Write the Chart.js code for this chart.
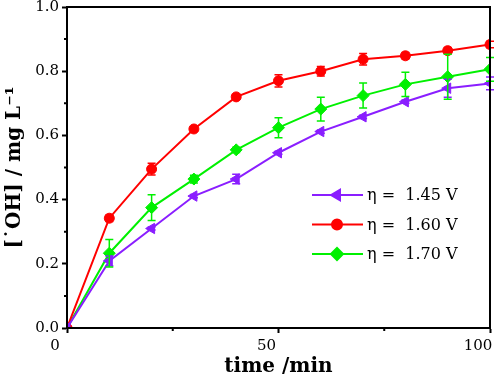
<!DOCTYPE html>
<html>
<head>
<meta charset="utf-8">
<script src="https://cdn.jsdelivr.net/npm/chart.js@4.4.0/dist/chart.umd.min.js"></script>
<style>
  html, body { margin: 0; padding: 0; background: #fff; }
  #wrap { width: 498px; height: 379px; }
</style>
</head>
<body>
<div id="wrap"><canvas id="ohChart" width="498" height="379"></canvas></div>
<script>
// --- data ---
const times = [0, 10, 20, 30, 40, 50, 60, 70, 80, 90, 100];

const oh145 = [0, 0.209, 0.310, 0.411, 0.464, 0.546, 0.612, 0.658, 0.705, 0.747, 0.762];
const err145 = [0, 0.015, 0.005, 0.005, 0.015, 0.005, 0.005, 0.005, 0.005, 0.028, 0.02];

const oh160 = [0, 0.342, 0.495, 0.620, 0.720, 0.770, 0.800, 0.837, 0.848, 0.864, 0.883];
const err160 = [0, 0.01, 0.018, 0.006, 0.006, 0.019, 0.015, 0.018, 0.01, 0.01, 0.01];

const oh170 = [0, 0.233, 0.375, 0.464, 0.555, 0.624, 0.682, 0.724, 0.759, 0.783, 0.806];
const err170 = [0, 0.043, 0.04, 0.012, 0.008, 0.031, 0.037, 0.039, 0.038, 0.07, 0.037];

const seriesLabels = ["η =  1.45 V", "η =  1.60 V", "η =  1.70 V"];
const xTitle = "time /min";
const yTitle = "[˙OH] / mg L⁻¹";

const FONT = "'DejaVu Serif', 'Liberation Serif', serif";
const PURPLE = "#8a1eff";
const RED = "#ff0000";
const GREEN = "#00f000";

const toPts = (ys) => times.map((t, i) => ({ x: t, y: ys[i] }));

// error bars, drawn through the y scale
const errorBars = {
  id: "errorBars",
  afterDatasetsDraw(chart) {
    const ctx = chart.ctx;
    const yScale = chart.scales.y;
    chart.data.datasets.forEach((ds, di) => {
      const meta = chart.getDatasetMeta(di);
      ctx.save();
      ctx.strokeStyle = ds.borderColor;
      ctx.lineWidth = 1.5;
      meta.data.forEach((pt, i) => {
        const e = ds.errors[i];
        if (!e) return;
        const val = ds.data[i].y;
        const top = yScale.getPixelForValue(val + e);
        const bot = yScale.getPixelForValue(val - e);
        ctx.beginPath();
        ctx.moveTo(pt.x, top); ctx.lineTo(pt.x, bot);
        ctx.moveTo(pt.x - 4, top); ctx.lineTo(pt.x + 4, top);
        ctx.moveTo(pt.x - 4, bot); ctx.lineTo(pt.x + 4, bot);
        ctx.stroke();
      });
      ctx.restore();
    });
  }
};

// frame, minor ticks and the in-plot legend
const frameAndLegend = {
  id: "frameAndLegend",
  afterDraw(chart) {
    const ctx = chart.ctx;
    const a = chart.chartArea;
    ctx.save();
    ctx.strokeStyle = "#000";
    ctx.lineWidth = 2;
    ctx.strokeRect(a.left, a.top, a.right - a.left, a.bottom - a.top);

    // minor ticks halfway between the major ones
    const xs = chart.scales.x, ys = chart.scales.y;
    ctx.beginPath();
    for (let i = 0; i < xs.ticks.length - 1; i++) {
      const px = xs.getPixelForValue((xs.ticks[i].value + xs.ticks[i + 1].value) / 2);
      ctx.moveTo(px, a.bottom); ctx.lineTo(px, a.bottom + 3);
    }
    for (let i = 0; i < ys.ticks.length - 1; i++) {
      const py = ys.getPixelForValue((ys.ticks[i].value + ys.ticks[i + 1].value) / 2);
      ctx.moveTo(a.left, py); ctx.lineTo(a.left - 3, py);
    }
    ctx.stroke();

    // legend
    const x0 = a.right - 178;
    let y = a.top + 188;
    ctx.font = "16px " + FONT;
    ctx.textBaseline = "middle";
    chart.data.datasets.forEach((ds) => {
      ctx.strokeStyle = ds.borderColor;
      ctx.fillStyle = ds.backgroundColor;
      ctx.lineWidth = 2;
      ctx.beginPath();
      ctx.moveTo(x0, y); ctx.lineTo(x0 + 51, y);
      ctx.stroke();
      Chart.helpers.drawPoint(ctx, {
        pointStyle: ds.pointStyle,
        rotation: ds.pointRotation || 0,
        radius: ds.pointRadius,
        borderWidth: 1
      }, x0 + 25, y);
      ctx.fillStyle = "#000";
      ctx.fillText(ds.label, x0 + 55, y + 1);
      y += 29.5;
    });
    ctx.restore();
  }
};

const ctx = document.getElementById("ohChart").getContext("2d");
const ohChart = new Chart(ctx, {
  type: "line",
  data: {
    datasets: [{
      label: seriesLabels[0],
      data: toPts(oh145),
      errors: err145,
      borderColor: PURPLE,
      backgroundColor: PURPLE,
      borderWidth: 2,
      pointStyle: "triangle",
      pointRotation: -90,
      pointRadius: 6,
      pointBorderWidth: 1
    }, {
      label: seriesLabels[1],
      data: toPts(oh160),
      errors: err160,
      borderColor: RED,
      backgroundColor: RED,
      borderWidth: 2,
      pointStyle: "circle",
      pointRadius: 5,
      pointBorderWidth: 1
    }, {
      label: seriesLabels[2],
      data: toPts(oh170),
      errors: err170,
      borderColor: GREEN,
      backgroundColor: GREEN,
      borderWidth: 2,
      pointStyle: "rectRot",
      pointRadius: 6,
      pointBorderWidth: 1
    }]
  },
  options: {
    responsive: false,
    animation: false,
    layout: { padding: { left: 3, top: 7, right: 8, bottom: 0 } },
    plugins: {
      legend: { display: false },
      tooltip: { enabled: false }
    },
    scales: {
      x: {
        type: "linear",
        min: 0,
        max: 100,
        ticks: {
          stepSize: 50,
          labelOffset: -12,
          padding: 4,
          color: "#000",
          font: { family: FONT, size: 15 },
          maxRotation: 0
        },
        grid: { drawOnChartArea: false, drawTicks: true, tickLength: 5, tickWidth: 2, tickColor: "#000" },
        border: { display: true, color: "#000", width: 2 },
        title: { display: true, text: xTitle, color: "#000", padding: 0,
                 font: { family: FONT, size: 20, weight: "bold" } },
        afterFit(scale) { scale.height = 51; scale.paddingLeft = 0; scale.paddingRight = 0; }
      },
      y: {
        min: 0,
        max: 1,
        ticks: {
          stepSize: 0.2,
          padding: 3,
          color: "#000",
          font: { family: FONT, size: 15 },
          callback: (v) => v.toFixed(1)
        },
        grid: { drawOnChartArea: false, drawTicks: true, tickLength: 5, tickWidth: 2, tickColor: "#000" },
        border: { display: true, color: "#000", width: 2 },
        title: { display: true, text: yTitle, color: "#000", padding: 0,
                 font: { family: FONT, size: 20, weight: "bold" } },
        afterFit(scale) { scale.width = 64; scale.paddingTop = 0; scale.paddingBottom = 0; }
      }
    }
  },
  plugins: [errorBars, frameAndLegend]
});
</script>
</body>
</html>
